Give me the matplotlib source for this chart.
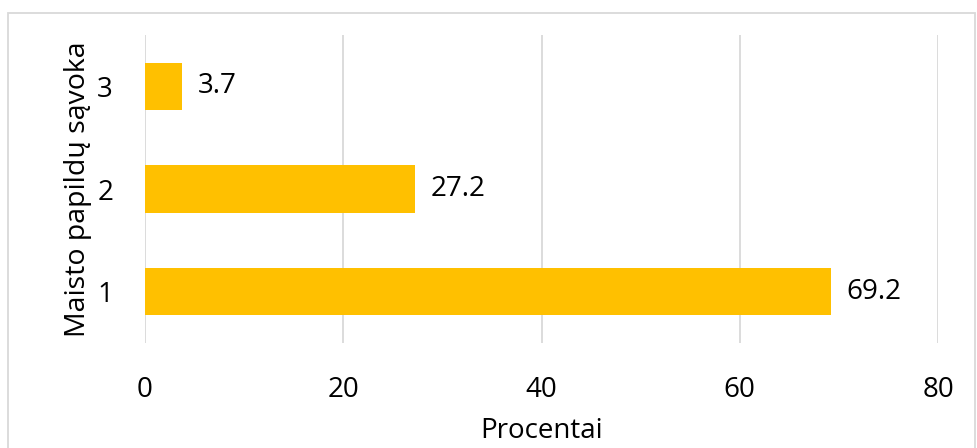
import matplotlib.pyplot as plt
from matplotlib.patches import Rectangle

categories = ['1', '2', '3']
values = [69.2, 27.2, 3.7]
xticks = [0, 20, 40, 60, 80]

plt.rcParams['font.family'] = ['Open Sans', 'DejaVu Sans']
FS = 20

W, H = 977, 448
fig = plt.figure(figsize=(W / 100, H / 100), dpi=100)

# chart frame (runs off the right and bottom edges)
fig.patches.append(Rectangle((8 / W, -0.05), (975 - 8) / W, 1.05 - 13 / H,
                             transform=fig.transFigure, fill=False,
                             edgecolor='#d9d9d9', linewidth=1.3))

ax = fig.add_axes([145 / W, 1 - 343 / H, (938 - 145) / W, (343 - 35) / H])

pos = range(len(categories))
bars = ax.barh(pos, values, height=0.46, color='#ffc000')
for b, v in zip(bars, values):
    ax.text(b.get_width() + 1.6, b.get_y() + b.get_height() / 2, f'{v}',
            va='center', ha='left', fontsize=FS)

ax.set_xlim(0, 80)
ax.set_ylim(-0.5, len(categories) - 0.5)
ax.set_xticks(xticks)
ax.set_yticks(list(pos))
ax.set_yticklabels(categories)
ax.tick_params(axis='both', length=0, labelsize=FS)
ax.tick_params(axis='x', pad=24)
ax.tick_params(axis='y', pad=23)
ax.xaxis.grid(True, color='#d9d9d9', linewidth=1.3)
ax.set_axisbelow(True)
for s in ax.spines.values():
    s.set_visible(False)

ax.set_xlabel('Procentai', fontsize=FS, labelpad=9)
ax.set_ylabel('Maisto papildų sąvoka', fontsize=20.5, labelpad=4)

fig.savefig('out.png', dpi=100)
